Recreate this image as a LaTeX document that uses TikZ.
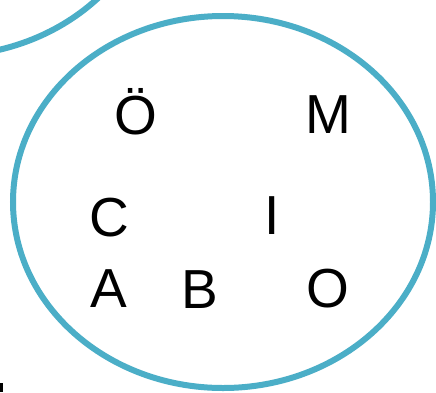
\documentclass[tikz,border=0pt]{standalone}
\usepackage{fontspec}
\setmainfont{Liberation Sans}
\definecolor{ringblue}{RGB}{75,174,199}
\begin{document}
\begin{tikzpicture}[x=1pt,y=-1pt,
  ring/.style={draw=ringblue,line width=6pt},
  letter/.style={anchor=base,inner sep=0pt,font=\fontsize{55}{60}\selectfont}]
\useasboundingbox (0,0) rectangle (436,392);
\clip (0,0) rectangle (436,392);
\fill[white] (0,0) rectangle (436,392);
\draw[ring] (-55,-132) ellipse [x radius=212, y radius=188];
\draw[ring] (223,202) ellipse [x radius=210, y radius=186];
\node[letter] (oe) at (136,134) {Ö};
\node[letter] (m) at (328,133) {M};
\node[letter] (c) at (109,236) {C};
\node[letter] (i) at (272,234) {I};
\node[letter] (a) at (109,307) {A};
\node[letter] (b) at (200,308) {B};
\node[letter] (o) at (328,307) {O};
\fill[black] (0,383) rectangle (3,392);
\end{tikzpicture}
\end{document}
